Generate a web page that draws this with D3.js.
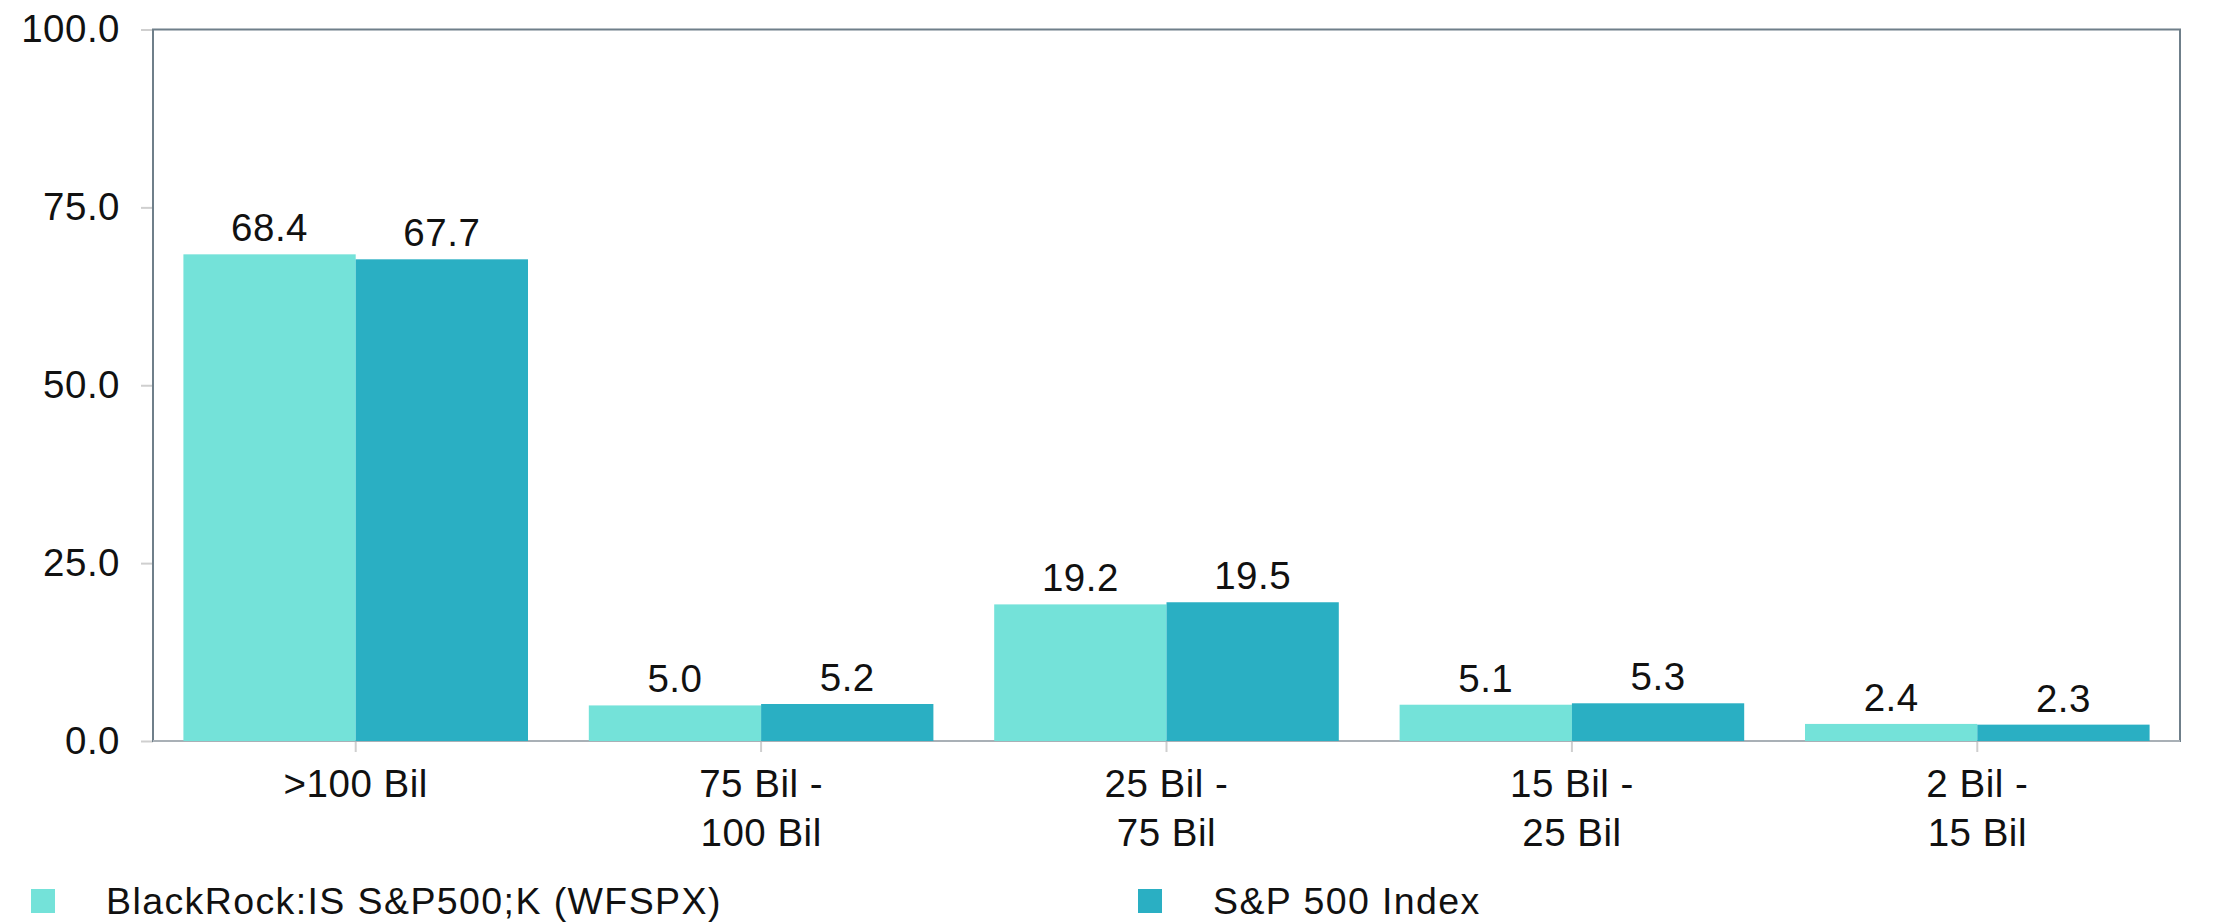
<!DOCTYPE html>
<html>
<head>
<meta charset="utf-8">
<script src="https://cdn.jsdelivr.net/npm/d3@7"></script>
<style>
  html, body { margin: 0; padding: 0; background: #fff; }
  svg { display: block; }
  text { font-family: "Liberation Sans", Arial, Helvetica, sans-serif; fill: #111; }
</style>
</head>
<body>
<svg id="chart" width="2223" height="924"></svg>
<script>
const categories = [">100 Bil", "75 Bil -\n100 Bil", "25 Bil -\n75 Bil", "15 Bil -\n25 Bil", "2 Bil -\n15 Bil"];
const seriesNames = ["BlackRock:IS S&P500;K (WFSPX)", "S&P 500 Index"];
const fundValues = [68.4, 5.0, 19.2, 5.1, 2.4];
const indexValues = [67.7, 5.2, 19.5, 5.3, 2.3];
const yTicks = [0, 25, 50, 75, 100];
const colors = ["#74e2d9", "#2aafc3"];

const W = 2223, H = 924;
const margin = { left: 153, right: W - 2180, top: 29.5, bottom: H - 741 };
const svg = d3.select("#chart");
const innerW = W - margin.left - margin.right;
const innerH = H - margin.top - margin.bottom;
const g = svg.append("g").attr("transform", `translate(${margin.left},${margin.top})`);

const x0 = d3.scaleBand().domain(categories).range([0, innerW]).paddingInner(0.15).paddingOuter(0.075);
const x1 = d3.scaleBand().domain([0, 1]).range([0, x0.bandwidth()]).padding(0);
const y = d3.scaleLinear().domain([0, 100]).range([innerH, 0]);

const FS = 38.5;

// Y axis
const yAxis = g.append("g")
  .call(d3.axisLeft(y).tickValues(yTicks).tickFormat(d3.format(".1f")).tickSize(12).tickPadding(21));
yAxis.select(".domain").remove();
yAxis.selectAll(".tick line").attr("stroke", "#cfcfcf").attr("stroke-width", 2);
yAxis.selectAll(".tick text").attr("font-size", FS).attr("fill", "#111")
  .style("letter-spacing", "0.5px");

// X axis ticks
const xAxis = g.append("g").attr("transform", `translate(0,${innerH})`)
  .call(d3.axisBottom(x0).tickSize(11).tickFormat(""));
xAxis.select(".domain").remove();
xAxis.selectAll(".tick line").attr("stroke", "#cfcfcf").attr("stroke-width", 2);

// Frame
g.append("rect").attr("x", 0).attr("y", 0).attr("width", innerW).attr("height", innerH)
  .attr("fill", "none").attr("stroke", "#6f7f8a").attr("stroke-width", 2);
g.append("line").attr("x1", 0).attr("x2", innerW).attr("y1", innerH).attr("y2", innerH)
  .attr("stroke", "#a9b0b6").attr("stroke-width", 2);

// Bars
const data = categories.map((c, i) => ({ cat: c, vals: [fundValues[i], indexValues[i]] }));
const groups = g.selectAll(".grp").data(data).enter().append("g")
  .attr("transform", d => `translate(${x0(d.cat)},0)`);
groups.selectAll("rect").data(d => d.vals.map((v, k) => ({ v, k }))).enter().append("rect")
  .attr("x", d => x1(d.k))
  .attr("width", x1.bandwidth())
  .attr("y", d => y(d.v))
  .attr("height", d => innerH - y(d.v))
  .attr("fill", d => colors[d.k]);
groups.selectAll("text.val").data(d => d.vals.map((v, k) => ({ v, k }))).enter().append("text")
  .attr("class", "val")
  .attr("x", d => x1(d.k) + x1.bandwidth() / 2)
  .attr("y", d => y(d.v) - 13)
  .attr("text-anchor", "middle")
  .attr("font-size", FS)
  .style("letter-spacing", "0.5px")
  .text(d => d3.format(".1f")(d.v));

// X labels
const xl = g.selectAll(".xl").data(categories).enter().append("text")
  .attr("class", "xl")
  .attr("text-anchor", "middle")
  .attr("font-size", FS)
  .style("letter-spacing", "0.5px")
  .attr("transform", d => `translate(${x0(d) + x0.bandwidth() / 2},${innerH + 56})`);
xl.each(function(d) {
  const lines = d.split("\n");
  const t = d3.select(this);
  lines.forEach((ln, i) => {
    t.append("tspan").attr("x", 0).attr("y", i * 49).text(ln);
  });
});

// Legend
const legendX = [31, 1138];
const leg = svg.selectAll(".leg").data(seriesNames).enter().append("g")
  .attr("transform", (d, i) => `translate(${legendX[i]},889)`);
leg.append("rect").attr("width", 24).attr("height", 24).attr("fill", (d, i) => colors[i]);
leg.append("text").attr("x", 75).attr("y", 25)
  .attr("font-size", 37.5)
  .style("letter-spacing", "1.4px")
  .text(d => d);
</script>
</body>
</html>
